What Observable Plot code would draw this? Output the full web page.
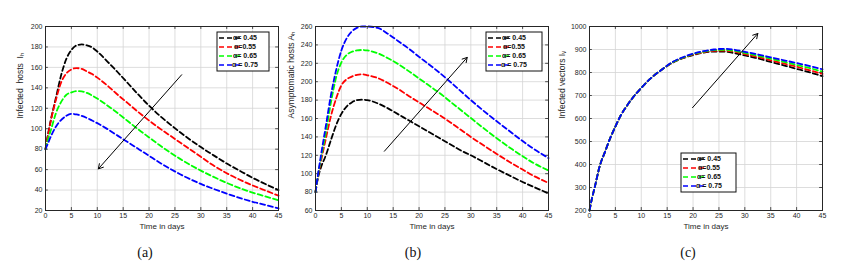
<!DOCTYPE html>
<html><head><meta charset="utf-8">
<script src="https://cdn.jsdelivr.net/npm/d3@7"></script>
<script src="https://cdn.jsdelivr.net/npm/@observablehq/plot@0.6"></script>
<style>
body{margin:0;background:#fff;}
#wrap{position:relative;width:860px;height:270px;overflow:hidden;}
.panel{position:absolute;top:0;}
.cap{position:absolute;top:245px;font-family:"Liberation Serif","Times New Roman",serif;font-size:14px;transform:translateX(-50%);color:#111;}
</style></head><body><div id="wrap"></div><script>
// ---- data ----
const days = [0,0.5,1,2,3,4,5,6,7,8,9,10,12,14,16,18,20,22,24,26,28,30,32,35,38,40,42,45];
const xTicks = [0,5,10,15,20,25,30,35,40,45];
const alphaLabels = ["\u03b1= 0.45","\u03b1=0.55","\u03b1= 0.65","\u03b1 = 0.75"];
const seriesColors = ["#000000","#ff0000","#00ff00","#0000ff"];

// (a) Infected hosts I_h
const hostsA045 = [80,95,108,130,152,168,177,181.5,182.5,181.5,179.5,175.5,165.5,155,144,133,122.5,113,104.5,96.5,89,82,75.5,66,57.5,52,47,40];
const hostsA055 = [80,94,107,128,145,154,158,159.3,158.5,156,153.5,150,142,133,124.5,116,108,100.5,93.5,86.5,79.5,72.5,65.5,56.5,49,44.5,40.5,34.5];
const hostsA065 = [80,90,98,115,126,133,135.5,136.8,136.5,135,132.5,129.5,122.5,115,107,99,91.5,84,77,70.5,64.5,59,54,47,41,37.5,34.5,30];
const hostsA075 = [80,86,92,102,108.5,112.5,114.5,114,112.5,110.5,108,105.5,99.5,93,86.5,80,73.5,67,61,55.5,50.5,46,42,36.5,31.5,28.5,26,22];
const yTicksA = [20,40,60,80,100,120,140,160,180,200];
const arrowA = [26.3,152.8,10.2,60.7];

// (b) Asymptomatic hosts A_h
const asymB045 = [80,96,106,120,137,153,165,173,177.5,180,180.5,180,176.5,171,164.5,158,151.5,145,138.5,132,125.5,120,114,105,96.5,91,86,78.5];
const asymB055 = [80,98,112,138,163,182,196,202.5,205.5,207.5,208,207,204,198.5,192,184.5,177.5,170.5,163.5,156,148,140,132.5,121.5,111,104.5,98,90];
const asymB065 = [80,99,115,145,178,205,221,229,232.5,234,234.5,234,231,225.5,219,211.5,203.5,195.5,187.5,178.5,169.5,160.5,151.5,138.5,126.5,119,112,103.5];
const asymB075 = [80,100,118,152,186,213,234,247,254.5,258.5,260,260,258.5,252,244,236,227,218.5,209.5,200,190,180,170.5,157,144,135.5,127.5,117];
const yTicksB = [60,80,100,120,140,160,180,200,220,240,260];
const arrowB = [13.3,124.4,29.3,226.4];

// (c) Infected vectors I_v
const vecC045 = [200,255,300,395,455,515,565,612,648,680,708,733,778,813,842,862,876,886,891,891,884,874,864,846,828,816,804,784];
const vecC055 = [200,255,300,395,455,515,565,612,648,680,708,733,778,813,843,863,878,888,894,895,890,880,870,853,836,825,813,794];
const vecC065 = [200,255,300,395,455,515,565,612,648,680,708,733,778,813,844,864,880,890,897,899,894,885,876,860,844,833,822,804];
const vecC075 = [200,255,300,395,455,515,565,612,648,680,708,733,778,813,845,866,882,893,900,903,899,890,881,866,851,841,831,814];
const yTicksC = [200,300,400,500,600,700,800,900,1000];
const arrowC = [19.9,647,32.5,969.5];

// ---- drawing ----
const wrap = document.getElementById("wrap");
const fmt = d => String(d);

function panel(cfg) {
  const rows = [];
  cfg.series.forEach((vals, k) => vals.forEach((v, i) => rows.push({t: days[i], v, a: alphaLabels[k]})));
  const [y0, y1] = [cfg.yTicks[0], cfg.yTicks[cfg.yTicks.length - 1]];
  const tl = (y1 - y0) * 0.016;
  const chart = Plot.plot({
    width: cfg.width, height: 240,
    marginLeft: cfg.marginLeft, marginRight: cfg.marginRight, marginTop: 26, marginBottom: 30,
    style: {fontFamily: "'Liberation Sans', Arial, sans-serif", fontSize: "7px", color: "#262626", background: "#fff"},
    x: {domain: [0, 45], nice: false},
    y: {domain: [y0, y1], nice: false},
    color: {domain: alphaLabels, range: seriesColors},
    marks: [
      Plot.gridX(xTicks, {stroke: "#d4d4d4", strokeOpacity: 1, strokeWidth: 0.8}),
      Plot.gridY(cfg.yTicks, {stroke: "#d4d4d4", strokeOpacity: 1, strokeWidth: 0.8}),
      Plot.ruleY(cfg.yTicks, {y: d => d, x1: 0, x2: 0.55, stroke: "#262626", strokeWidth: 0.8}),
      Plot.ruleY(cfg.yTicks, {y: d => d, x1: 44.45, x2: 45, stroke: "#262626", strokeWidth: 0.8}),
      Plot.ruleX(xTicks, {x: d => d, y1: y0, y2: y0 + tl, stroke: "#262626", strokeWidth: 0.8}),
      Plot.ruleX(xTicks, {x: d => d, y1: y1 - tl, y2: y1, stroke: "#262626", strokeWidth: 0.8}),
      Plot.line(rows, {x: "t", y: "v", z: "a", stroke: "a", strokeWidth: 1.8, strokeDasharray: "5,3", curve: "monotone-x"}),
      Plot.arrow([cfg.arrow], {x1: d => d[0], y1: d => d[1], x2: d => d[2], y2: d => d[3], stroke: "#000", strokeWidth: 1, headLength: 8}),
      Plot.frame({stroke: "#262626", strokeWidth: 1}),
      Plot.axisX(xTicks, {tickSize: 0, tickPadding: 3, tickFormat: fmt, label: null, fontSize: 7}),
      Plot.axisY(cfg.yTicks, {tickSize: 0, tickPadding: 3, tickFormat: fmt, label: null, fontSize: 7}),
      Plot.text(["Time in days"], {text: d => d, frameAnchor: "bottom", dy: 18, fontSize: 8, fill: "#262626"}),
      Plot.text([cfg.yLabel], {text: d => d, frameAnchor: "left", dx: cfg.yLabelDx, rotate: -90, fontSize: 8.5, fill: "#262626"})
    ]
  });
  // legend box (MATLAB style), inside the axes
  const svg = d3.select(chart);
  const g = svg.append("g").attr("transform", `translate(${cfg.legend[0]},${cfg.legend[1]})`);
  g.append("rect").attr("width", cfg.legendW).attr("height", 39).attr("fill", "#fff").attr("stroke", "#111").attr("stroke-width", 1);
  alphaLabels.forEach((lab, k) => {
    const yy = 6 + k * 9;
    g.append("line").attr("x1", 2).attr("x2", 26).attr("y1", yy).attr("y2", yy)
      .attr("stroke", seriesColors[k]).attr("stroke-width", 1.6).attr("stroke-dasharray", "5,3");
    g.append("text").attr("x", 28).attr("y", yy).attr("dy", "0.35em")
      .attr("font-size", 7).attr("font-weight", "bold").attr("fill", "#111").text(lab);
  });
  const div = document.createElement("div");
  div.className = "panel";
  div.style.left = cfg.left + "px";
  div.appendChild(chart);
  wrap.appendChild(div);
  const cap = document.createElement("div");
  cap.className = "cap";
  cap.style.left = cfg.capX + "px";
  cap.textContent = cfg.caption;
  wrap.appendChild(cap);
}

panel({left: 0, width: 285, marginLeft: 45, marginRight: 7, yTicks: yTicksA,
  series: [hostsA045, hostsA055, hostsA065, hostsA075], arrow: arrowA,
  yLabel: "Infected  hosts  I\u2095", yLabelDx: -25, legend: [217, 32], legendW: 52, capX: 145, caption: "(a)"});
panel({left: 285, width: 270, marginLeft: 30, marginRight: 7, yTicks: yTicksB,
  series: [asymB045, asymB055, asymB065, asymB075], arrow: arrowB,
  yLabel: "Asymptomatic hosts A\u2095", yLabelDx: -24, legend: [201, 32], legendW: 56, capX: 413, caption: "(b)"});
panel({left: 555, width: 305, marginLeft: 34, marginRight: 38, yTicks: yTicksC,
  series: [vecC045, vecC055, vecC065, vecC075], arrow: arrowC,
  yLabel: "Infected vectors I\u1d65", yLabelDx: -27, legend: [126, 153], legendW: 55, capX: 688, caption: "(c)"});
</script></body></html>
